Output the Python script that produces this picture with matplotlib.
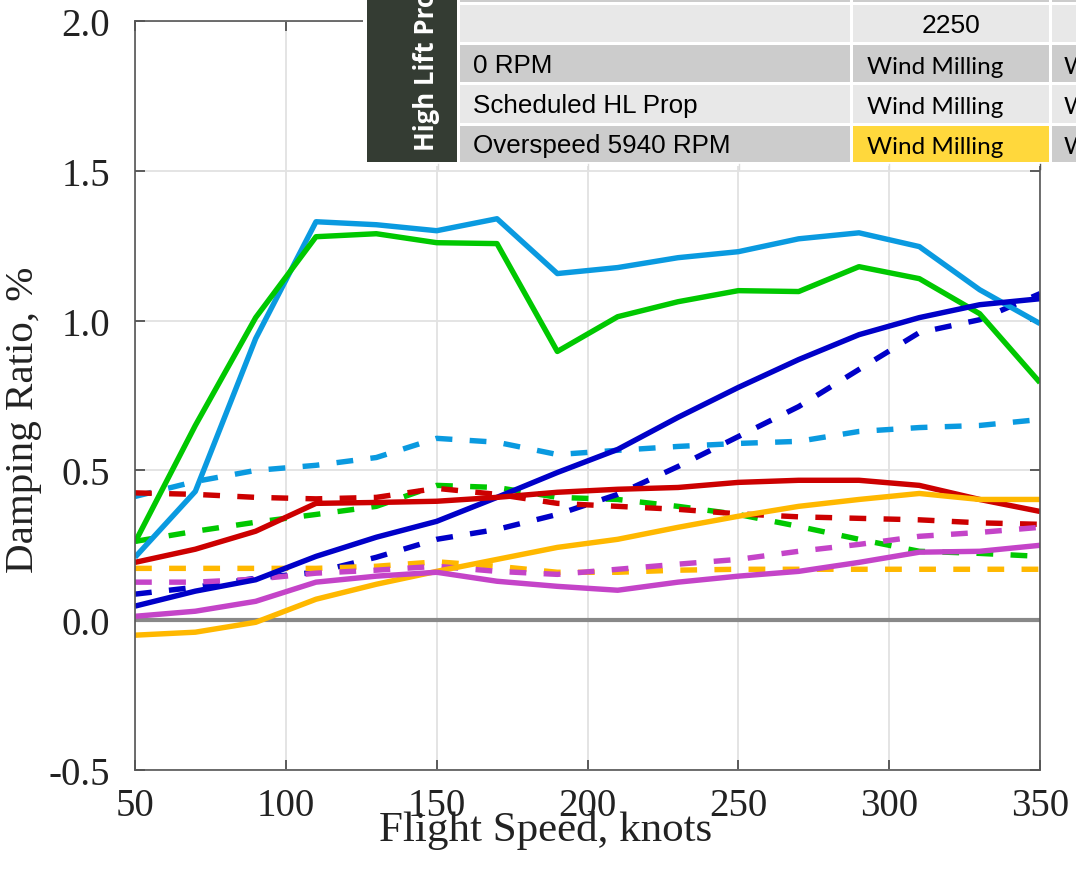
import matplotlib
matplotlib.use("Agg")
import matplotlib.pyplot as plt
from matplotlib.patches import Rectangle

plt.rcParams['axes.unicode_minus'] = False

# ---------------- data ----------------
speed = [50, 70, 90, 110, 130, 150, 170, 190, 210, 230, 250, 270, 290, 310, 330, 350]

lblue_solid = [0.21, 0.43, 0.94, 1.33, 1.32, 1.30, 1.34, 1.157, 1.177, 1.21, 1.23, 1.273, 1.293, 1.247, 1.103, 0.99]
green_solid = [0.26, 0.65, 1.01, 1.28, 1.29, 1.26, 1.257, 0.897, 1.013, 1.063, 1.10, 1.097, 1.18, 1.14, 1.023, 0.793]
dblue_solid = [0.047, 0.097, 0.135, 0.213, 0.277, 0.33, 0.41, 0.493, 0.57, 0.677, 0.777, 0.87, 0.953, 1.01, 1.053, 1.073]
red_solid = [0.193, 0.237, 0.297, 0.39, 0.393, 0.397, 0.41, 0.427, 0.437, 0.443, 0.46, 0.467, 0.467, 0.45, 0.403, 0.363]
orange_solid = [-0.05, -0.04, -0.007, 0.07, 0.12, 0.163, 0.203, 0.243, 0.27, 0.31, 0.347, 0.38, 0.403, 0.423, 0.403, 0.403]
magenta_solid = [0.013, 0.03, 0.063, 0.127, 0.147, 0.16, 0.13, 0.113, 0.10, 0.127, 0.147, 0.163, 0.193, 0.227, 0.23, 0.25]

lblue_dash = [0.413, 0.463, 0.50, 0.517, 0.543, 0.607, 0.594, 0.553, 0.567, 0.58, 0.59, 0.597, 0.63, 0.643, 0.65, 0.67]
green_dash = [0.263, 0.297, 0.327, 0.353, 0.38, 0.45, 0.443, 0.41, 0.403, 0.38, 0.353, 0.313, 0.27, 0.23, 0.223, 0.213]
dblue_dash = [0.087, 0.11, 0.14, 0.16, 0.21, 0.27, 0.303, 0.353, 0.42, 0.513, 0.613, 0.713, 0.837, 0.96, 1.003, 1.09]
red_dash = [0.425, 0.42, 0.41, 0.405, 0.41, 0.44, 0.42, 0.39, 0.38, 0.37, 0.355, 0.345, 0.34, 0.335, 0.325, 0.32]
orange_dash = [0.173, 0.173, 0.173, 0.173, 0.18, 0.195, 0.18, 0.16, 0.16, 0.167, 0.17, 0.17, 0.17, 0.17, 0.17, 0.17]
magenta_dash = [0.127, 0.127, 0.137, 0.157, 0.167, 0.18, 0.163, 0.153, 0.17, 0.187, 0.203, 0.23, 0.253, 0.28, 0.293, 0.31]

x_ticks = [50, 100, 150, 200, 250, 300, 350]
y_ticks = [-0.5, 0.0, 0.5, 1.0, 1.5, 2.0]

table_header = "2250"
table_rows = ["0 RPM", "Scheduled HL Prop", "Overspeed 5940 RPM"]
table_cell = "Wind Milling"
table_side = "High Lift Propeller"

# ---------------- figure ----------------
W, H = 1076, 879
fig = plt.figure(figsize=(W / 100, H / 100), dpi=100)
ax = fig.add_axes([135 / W, 1 - 771 / H, 905 / W, 749 / H])

C_LB = '#0a9ae0'
C_GR = '#00c800'
C_DB = '#0000c8'
C_RD = '#cc0000'
C_OR = '#ffb800'
C_MG = '#c444c8'

lw = 3.9
dash = (3.1, 3.2)

ax.axhline(0, color='#888888', lw=3.0, zorder=1.5)

solid = [(lblue_solid, C_LB), (green_solid, C_GR), (dblue_solid, C_DB),
         (red_solid, C_RD), (orange_solid, C_OR), (magenta_solid, C_MG)]
dashed = [(lblue_dash, C_LB), (green_dash, C_GR), (dblue_dash, C_DB),
          (red_dash, C_RD), (orange_dash, C_OR), (magenta_dash, C_MG)]

for vals, c in dashed:
    ax.plot(speed, vals, color=c, lw=lw, ls='--', dashes=dash, zorder=2)
for vals, c in solid:
    ax.plot(speed, vals, color=c, lw=lw, solid_capstyle='butt', zorder=2.5)

ax.set_xlim(50, 350)
ax.set_ylim(-0.5, 2.0)
ax.set_xticks(x_ticks)
ax.set_yticks(y_ticks)
ax.set_yticklabels([f"{v:.1f}" for v in y_ticks])
ax.grid(True, color='#e2e2e2', lw=1.3)
ax.set_axisbelow(True)

serif = ['Liberation Serif', 'DejaVu Serif']
ax.tick_params(direction='in', length=7, width=1.2, color='#444444',
               top=True, right=True, labelsize=28)
ax.tick_params(axis='y', pad=18)
ax.tick_params(axis='x', pad=12)
for lab in ax.get_xticklabels() + ax.get_yticklabels():
    lab.set_fontfamily(serif)
    lab.set_color('#222222')
for s in ax.spines.values():
    s.set_color('#555555')
    s.set_linewidth(1.2)

ax.set_xlabel("Flight Speed, knots", fontsize=31, family=serif, color='#222222')
ax.set_ylabel("Damping Ratio, %", fontsize=29.5, family=serif, color='#222222')
ax.xaxis.set_label_coords((546 - 135) / 905, (771 - 811) / 749)
ax.yaxis.set_label_coords((42 - 135) / 905, (771 - 420) / 749)

# ---------------- pasted table overlay ----------------
ov = fig.add_axes([0, 0, 1, 1], zorder=10)
ov.set_xlim(0, W)
ov.set_ylim(H, 0)
ov.axis('off')
ov.patch.set_alpha(0)

def rect(x0, y0, x1, y1, color):
    ov.add_patch(Rectangle((x0, y0), x1 - x0, y1 - y0, facecolor=color,
                           edgecolor='none', zorder=1))

rect(363, 0, W, 167, 'white')
rect(367, 0, 457, 163, '#343c33')

cols = [(460, 850), (853, 1049), (1052, W)]
rows = [(0, 3, '#cccccc'), (6, 43, '#e8e8e8'), (46, 83, '#cccccc'),
        (86, 124, '#e8e8e8'), (127, 163, '#cccccc')]
for (y0, y1, c) in rows:
    for (x0, x1) in cols:
        rect(x0, y0, x1, y1, c)
rect(853, 127, 1049, 163, '#ffd83c')

ov.text(951, 26, table_header, fontsize=19, family='Liberation Sans',
        ha='center', va='center', color='black', zorder=3)
row_centers = [65, 105, 145]
for lbl, yc in zip(table_rows, row_centers):
    ov.text(473, yc + 1, lbl, fontsize=18.7, family='Liberation Sans',
            ha='left', va='center', color='black', zorder=3)
    ov.text(867, yc + 2, table_cell, fontsize=17.5, family='Lato',
            ha='left', va='center', color='black', zorder=3)
    ov.text(1064, yc + 2, table_cell, fontsize=17.5, family='Lato',
            ha='left', va='center', color='black', zorder=3, clip_on=True)

ov.text(426, 151, table_side, fontsize=18.5, family='Open Sans', weight='bold',
        rotation=90, ha='center', va='bottom', color='white', zorder=3)

for xt, c in [(438, '#dddddd'), (588, '#dddddd'), (739, '#dddddd'),
              (889, '#dddddd'), (1040, '#555555')]:
    ov.plot([xt, xt], [165, 170], color=c, lw=1, zorder=3)

fig.savefig("out.png", dpi=100)
